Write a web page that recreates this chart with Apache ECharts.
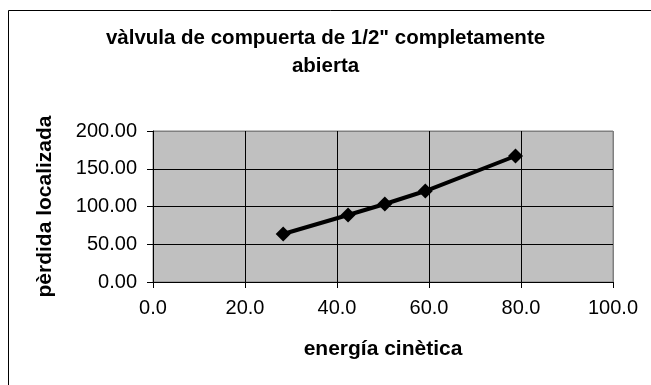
<!DOCTYPE html>
<html>
<head>
<meta charset="utf-8">
<script src="https://cdn.jsdelivr.net/npm/echarts@6/dist/echarts.min.js"></script>
<style>html,body{margin:0;padding:0;background:#fff;}#c{width:651px;height:385px;}</style>
</head>
<body>
<div id="c"></div>
<script>
const titleText = 'vàlvula de compuerta de 1/2" completamente\nabierta';
const xName = 'energía cinètica';
const yName = 'pèrdida localizada';
const energiaCinetica = [28.3, 42.4, 50.4, 59.2, 78.8];
const perdidaLocalizada = [63.6, 88.7, 103.3, 120.5, 166.9];
const xTicks = [0, 20, 40, 60, 80, 100];
const yTicks = [0, 50, 100, 150, 200];

const FONT = '"Liberation Sans", Arial, sans-serif';
const chart = echarts.init(document.getElementById('c'), null, {renderer: 'canvas'});
chart.setOption({
  animation: false,
  backgroundColor: '#ffffff',
  textStyle: {fontFamily: FONT},
  title: {
    text: titleText,
    left: 'center',
    top: 19,
    textStyle: {fontFamily: FONT, fontSize: 20.5, fontWeight: 'bold', color: '#000', lineHeight: 28}
  },
  graphic: [{
    type: 'rect',
    shape: {x: 8.5, y: 10.5, width: 700, height: 500},
    style: {fill: 'none', stroke: '#000', lineWidth: 1},
    silent: true, z: -1
  }],
  grid: {
    left: 153, right: 38, top: 131, bottom: 103,
    show: true, backgroundColor: '#c0c0c0', borderColor: '#808080', borderWidth: 1
  },
  xAxis: {
    type: 'value',
    min: xTicks[0], max: xTicks[xTicks.length - 1], interval: xTicks[1] - xTicks[0],
    name: xName, nameLocation: 'middle', nameGap: 57,
    nameTextStyle: {fontFamily: FONT, fontSize: 21, fontWeight: 'bold', color: '#000'},
    axisLine: {show: true, onZero: false, lineStyle: {color: '#000', width: 1}},
    axisTick: {show: true, length: 6, lineStyle: {color: '#000'}},
    axisLabel: {margin: 16, fontFamily: FONT, fontSize: 20, color: '#000', formatter: v => v.toFixed(1)},
    splitLine: {show: true, lineStyle: {color: ['#000', '#000', '#000', '#000', '#000', '#808080'], width: 1}}
  },
  yAxis: {
    type: 'value',
    min: yTicks[0], max: yTicks[yTicks.length - 1], interval: yTicks[1] - yTicks[0],
    name: yName, nameLocation: 'middle', nameGap: 97, nameRotate: 90,
    nameTextStyle: {fontFamily: FONT, fontSize: 21, fontWeight: 'bold', color: '#000'},
    axisLine: {show: true, onZero: false, lineStyle: {color: '#000', width: 1}},
    axisTick: {show: true, length: 6, lineStyle: {color: '#000'}},
    axisLabel: {margin: 16, fontFamily: FONT, fontSize: 20, color: '#000', formatter: v => v.toFixed(2)},
    splitLine: {show: true, lineStyle: {color: ['#000', '#000', '#000', '#000', '#808080'], width: 1}}
  },
  series: [{
    type: 'line',
    data: energiaCinetica.map((x, i) => [x, perdidaLocalizada[i]]),
    symbol: 'diamond',
    symbolSize: 15,
    showAllSymbol: true,
    lineStyle: {color: '#000', width: 4},
    itemStyle: {color: '#000'},
    z: 5
  }]
});
</script>
</body>
</html>
